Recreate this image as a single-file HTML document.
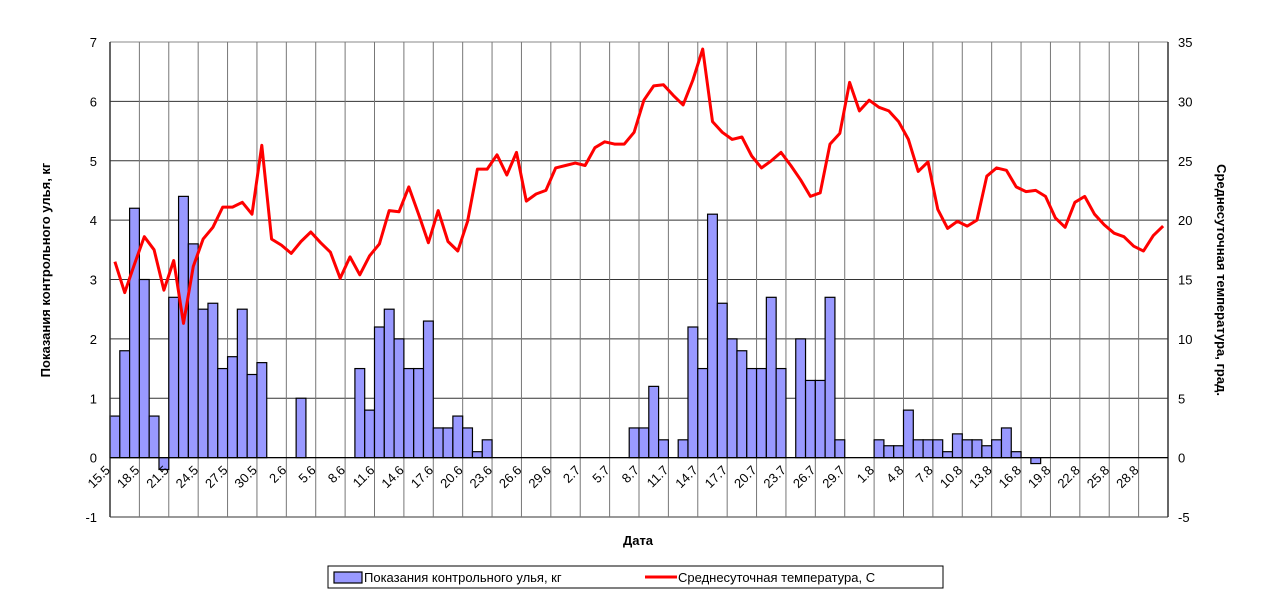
<!DOCTYPE html>
<html><head><meta charset="utf-8"><style>
body{margin:0;background:#fff;}
svg text{font-family:"Liberation Sans",Arial,sans-serif;}
</style></head><body>
<svg id="chart" width="1280" height="603" viewBox="0 0 1280 603">
<g id="grid"></g>
<g id="bars"></g>
<g id="line"></g>
<g id="axes"></g>
<text x="50" y="270" transform="rotate(-90 50 270)" text-anchor="middle" font-size="13" font-weight="bold">Показания контрольного улья, кг</text>
<text x="1217" y="280" transform="rotate(90 1217 280)" text-anchor="middle" font-size="13" font-weight="bold">Среднесуточная температура, град.</text>
<text x="638" y="545" text-anchor="middle" font-size="13" font-weight="bold">Дата</text>
<g>
<rect x="328" y="566" width="615" height="22" fill="#fff" stroke="#000" stroke-width="1"/>
<rect x="334" y="572" width="28" height="11" fill="#9999ff" stroke="#000" stroke-width="1.2"/>
<text x="364" y="582" font-size="13">Показания контрольного улья, кг</text>
<line x1="645" y1="577" x2="677" y2="577" stroke="#ff0000" stroke-width="3"/>
<text x="678" y="582" font-size="13">Среднесуточная температура, С</text>
</g>
</svg>
<script>
const tickLabels=["15.5","18.5","21.5","24.5","27.5","30.5","2.6","5.6","8.6","11.6","14.6","17.6","20.6","23.6","26.6","29.6","2.7","5.7","8.7","11.7","14.7","17.7","20.7","23.7","26.7","29.7","1.8","4.8","7.8","10.8","13.8","16.8","19.8","22.8","25.8","28.8"];
const leftTicks=[-1,0,1,2,3,4,5,6,7];
const rightTicks=[-5,0,5,10,15,20,25,30,35];
const hiveWeight=[0.7,1.8,4.2,3.0,0.7,-0.2,2.7,4.4,3.6,2.5,2.6,1.5,1.7,2.5,1.4,1.6,0,0,0,1.0,0,0,0,0,0,1.5,0.8,2.2,2.5,2.0,1.5,1.5,2.3,0.5,0.5,0.7,0.5,0.1,0.3,0,0,0,0,0,0,0,0,0,0,0,0,0,0,0.5,0.5,1.2,0.3,0,0.3,2.2,1.5,4.1,2.6,2.0,1.8,1.5,1.5,2.7,1.5,0,2.0,1.3,1.3,2.7,0.3,0,0,0,0.3,0.2,0.2,0.8,0.3,0.3,0.3,0.1,0.4,0.3,0.3,0.2,0.3,0.5,0.1,0,-0.1,0,0,0,0,0,0,0,0,0,0,0,0,0];
const temperature=[16.5,13.9,16.3,18.6,17.5,14.1,16.6,11.3,16.1,18.4,19.4,21.1,21.1,21.5,20.5,26.3,18.4,17.9,17.2,18.2,19.0,18.1,17.3,15.1,16.9,15.4,17.0,18.0,20.8,20.7,22.8,20.5,18.1,20.8,18.2,17.4,19.9,24.3,24.3,25.5,23.8,25.7,21.6,22.2,22.5,24.4,24.6,24.8,24.6,26.1,26.6,26.4,26.4,27.4,30.1,31.3,31.4,30.5,29.7,31.8,34.4,28.3,27.4,26.8,27.0,25.4,24.4,25.0,25.7,24.6,23.4,22.0,22.3,26.4,27.3,31.6,29.2,30.1,29.5,29.2,28.3,26.8,24.1,24.9,20.9,19.3,19.9,19.5,20.0,23.7,24.4,24.2,22.8,22.4,22.5,22.0,20.2,19.4,21.5,22.0,20.5,19.6,18.9,18.6,17.8,17.4,18.7,19.5];

const NS="http://www.w3.org/2000/svg";
const X0=110,X1=1168,Y0=517,Y1=42;
const N=hiveWeight.length;
const bw=(X1-X0)/N;
const xs=i=>X0+i*bw;
const yL=v=>Y0-(v-(-1))/(8)*(Y0-Y1);
const yR=v=>Y0-(v-(-5))/(40)*(Y0-Y1);
function mk(tag,attrs,parent){const e=document.createElementNS(NS,tag);for(const k in attrs)e.setAttribute(k,attrs[k]);parent.appendChild(e);return e;}
const grid=document.getElementById('grid'),bars=document.getElementById('bars'),line=document.getElementById('line'),axes=document.getElementById('axes');
// horizontal gridlines + ticks
leftTicks.forEach(v=>{
 const l=mk('line',{x1:X0,x2:X1,y1:yL(v),y2:yL(v),stroke:v===7?'#888':'#333','stroke-width':1},grid);
 
 
 const t=mk('text',{x:97,y:yL(v)+5,'text-anchor':'end','font-size':13},axes);
 t.textContent=v;
 
 
});
rightTicks.forEach(v=>{
 const t=mk('text',{x:1178,y:yR(v)+5,'text-anchor':'start','font-size':13},axes);
 t.textContent=v;
 
 
});
// vertical gridlines and x labels
tickLabels.forEach((lab,k)=>{
 const i=k*3;
 if(k>0){const l=mk('line',{x1:xs(i),x2:xs(i),y1:Y1,y2:Y0,stroke:'#777','stroke-width':1},grid);
 
 }
 const cx=xs(i)+bw/2;
 const t=mk('text',{x:cx-4,y:471,'text-anchor':'end','font-size':13,transform:`rotate(-45 ${cx-4} 471)`},axes);
 t.textContent=lab;
 
 
});
// bars
hiveWeight.forEach((v,i)=>{
 if(v===0)return;
 const y=Math.min(yL(v),yL(0)),h=Math.abs(yL(v)-yL(0));
 const r=mk('rect',{x:xs(i),y:y,width:bw,height:h,fill:'#9999ff',stroke:'#000','stroke-width':1.2},bars);
 
 
});
// line
const pts=temperature.map((v,i)=>(xs(i)+bw/2).toFixed(1)+','+yR(v).toFixed(1)).join(' ');
const pl=mk('polyline',{points:pts,fill:'none',stroke:'#ff0000','stroke-width':3,'stroke-linejoin':'round'},line);


// axes lines
const la=mk('line',{x1:X0,x2:X0,y1:Y1,y2:Y0,stroke:'#333','stroke-width':1.5},axes);


const ra=mk('line',{x1:X1,x2:X1,y1:Y1,y2:Y0,stroke:'#333','stroke-width':1.5},axes);


const za=mk('line',{x1:X0,x2:X1,y1:yL(0),y2:yL(0),stroke:'#000','stroke-width':1.2},axes);


</script>
</body></html>
